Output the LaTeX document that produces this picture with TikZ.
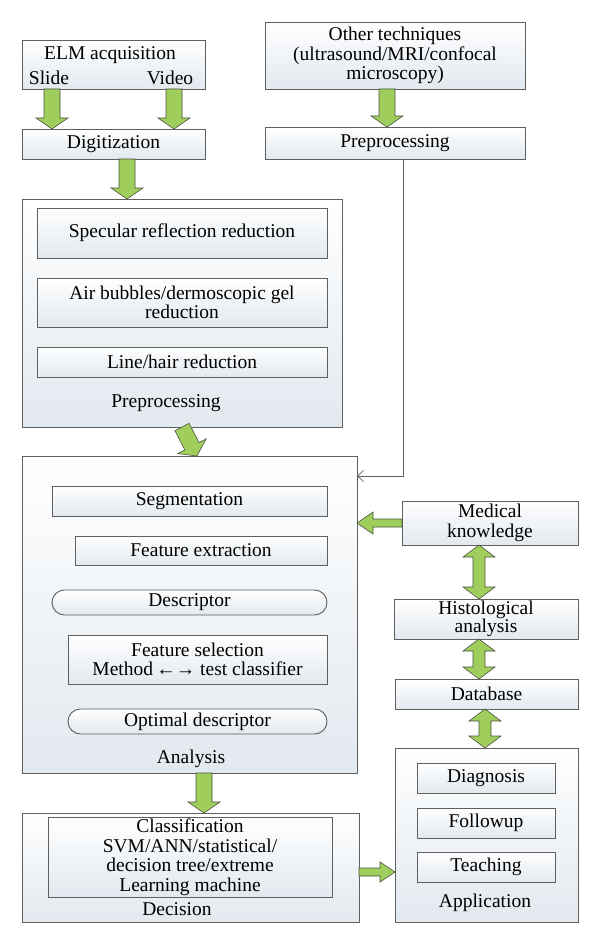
\documentclass[tikz,border=0pt]{standalone}
\usepackage{fontspec}
\setmainfont{Liberation Serif}
\usetikzlibrary{positioning,calc,shapes.misc,arrows.meta}

\definecolor{boxline}{RGB}{95,95,95}
\definecolor{boxshade}{RGB}{226,233,239}
\definecolor{arrowgreen}{RGB}{160,206,92}
\definecolor{arrowline}{RGB}{75,82,68}

\begin{document}
\begin{tikzpicture}[x=1pt,y=-1pt,
    font=\fontsize{19.5}{19.5}\selectfont,
    stage/.style={draw=boxline,line width=0.9pt,top color=white,bottom color=boxshade,
      inner sep=0pt,outer sep=0pt,align=center},
    stepbox/.style={stage},
    pill/.style={stage,rounded rectangle},
    caption/.style={anchor=base,inner sep=0pt},
    fat arrow/.style n args={3}{draw=arrowline,fill=arrowgreen,line width=0.6pt,
      to path={
        ($(\tikztotarget)!#3!(\tikztostart)$) coordinate (fa h)
        ($(\tikztostart)!#1!90:(\tikztotarget)$)
        -- ($(fa h)!#1!-90:(\tikztostart)$) -- ($(fa h)!#2!-90:(\tikztostart)$)
        -- (\tikztotarget)
        -- ($(fa h)!#2!90:(\tikztostart)$) -- ($(fa h)!#1!90:(\tikztostart)$)
        -- ($(\tikztostart)!#1!-90:(\tikztotarget)$) -- cycle}},
    fat twin/.style n args={3}{draw=arrowline,fill=arrowgreen,line width=0.6pt,
      to path={
        ($(\tikztostart)!#3!(\tikztotarget)$) coordinate (ft a)
        ($(\tikztotarget)!#3!(\tikztostart)$) coordinate (ft b)
        (\tikztostart)
        -- ($(ft a)!#2!90:(\tikztotarget)$) -- ($(ft a)!#1!90:(\tikztotarget)$)
        -- ($(ft b)!#1!-90:(\tikztostart)$) -- ($(ft b)!#2!-90:(\tikztostart)$)
        -- (\tikztotarget)
        -- ($(ft b)!#2!90:(\tikztostart)$) -- ($(ft b)!#1!90:(\tikztostart)$)
        -- ($(ft a)!#1!-90:(\tikztotarget)$) -- ($(ft a)!#2!-90:(\tikztotarget)$)
        -- cycle}},
    thin link/.style={draw=boxline,line width=0.7pt,-{Straight Barb[length=6pt,width=11pt]}}]

  \useasboundingbox (0,0) rectangle (600,944);

  % acquisition and digitization
  \node[stage,minimum width=183,minimum height=49] (elm) at (113.5,64.5) {};
  \node[caption] (acq) at (110,60) {ELM acquisition};
  \node[caption] (slide) at (49,85) {Slide};
  \node[caption] (video) at (170,85) {Video};
  \node[stage,minimum width=183,minimum height=30] (dig) at (113.5,144) {Digitization};

  % other techniques
  \node[stage,minimum width=260,minimum height=67] (other) at (395,55.5)
    {Other techniques\\(ultrasound/MRI/confocal\\microscopy)};
  \node[stage,minimum width=260,minimum height=32] (pre2) at (395,143) {Preprocessing};

  % preprocessing stage
  \node[stage,minimum width=320,minimum height=228] (prebox) at (182,313) {};
  \node[stepbox,minimum width=290,minimum height=50] (spec) at (182,233)
    {Specular reflection reduction};
  \node[stepbox,minimum width=290,minimum height=49,below=20pt of spec] (bubble)
    {Air bubbles/dermoscopic gel\\reduction};
  \node[stepbox,minimum width=290,minimum height=30,below=20pt of bubble] (hair)
    {Line/hair reduction};
  \node[caption] (prelbl) at (166,407) {Preprocessing};

  % analysis stage
  \node[stage,minimum width=335,minimum height=317] (ana) at (189.5,614.5) {};
  \node[stepbox,minimum width=275,minimum height=30] (seg) at (189.5,501) {Segmentation};
  \node[stepbox,minimum width=252,minimum height=29,below=20pt of seg.south east,
    anchor=north east] (feat) {Feature extraction};
  \node[pill,minimum width=275,minimum height=25] (desc) at (189.5,602.5) {Descriptor};
  \node[stepbox,minimum width=259,minimum height=49] (sel) at (197.5,659.5)
    {Feature selection\\Method\,←→ test classifier};
  \node[pill,minimum width=259,minimum height=25] (opt) at (197.5,721.5) {Optimal descriptor};
  \node[caption] (analbl) at (191,763) {Analysis};

  % decision stage
  \node[stage,minimum width=337,minimum height=109] (dec) at (190.5,867.5) {};
  \node[stepbox,minimum width=284,minimum height=80] (cls) at (190,857)
    {Classification\\SVM/ANN/statistical/\\decision tree/extreme\\Learning machine};
  \node[caption] (declbl) at (177,915) {Decision};

  % knowledge column
  \node[stage,minimum width=176,minimum height=44] (med) at (490,523) {Medical\\knowledge};
  \node[stage,minimum width=184,minimum height=40,font=\fontsize{19.5}{18}\selectfont]
    (histo) at (486,619) {Histological\\analysis};
  \node[stage,minimum width=183,minimum height=30] (db) at (486.5,694) {Database};

  % application stage
  \node[stage,minimum width=183,minimum height=174] (app) at (486.5,835) {};
  \node[stepbox,minimum width=138,minimum height=30] (diag) at (486,778) {Diagnosis};
  \node[stepbox,minimum width=138,minimum height=30,below=15pt of diag] (follow) {Followup};
  \node[stepbox,minimum width=138,minimum height=30,below=14pt of follow] (teach) {Teaching};
  \node[caption] (applbl) at (485,907) {Application};

  % connectors
  \coordinate (d1) at ($(dig.south)+(13.5,0)$);
  \coordinate (o1) at ($(other.south)+(-8,0)$);
  \coordinate (a1) at ($(ana.south)+(14.5,0)$);
  \coordinate (m1) at ($(med.south)+(-11,0)$);
  \coordinate (h1) at ($(histo.south)+(-7,0)$);
  \coordinate (b1) at ($(db.south)+(-1.5,0)$);
  \coordinate (c1) at ($(dec.east)+(0,4.5)$);
  \coordinate (t1) at ($(pre2.south)+(8,0)$);

  \path[fat arrow={8pt}{16pt}{11pt}]
    ($(elm.south west)+(30,0)$) to ($(dig.north west)+(30,0)$)
    ($(elm.south east)+(-31,0)$) to ($(dig.north east)+(-31,0)$)
    (d1) to (d1 |- prebox.north)
    (o1) to (o1 |- pre2.north)
    (prebox.south) to ($(ana.north)+(7.5,0)$)
    (a1) to (a1 |- dec.north);
  \path[fat arrow={4pt}{11pt}{16pt}] (med.west) to (med.west -| ana.east);
  \path[fat arrow={4pt}{10pt}{15pt}] (c1) to (c1 -| app.west);
  \path[fat twin={6pt}{16pt}{12pt}]
    (m1) to (m1 |- histo.north)
    (h1) to (h1 |- db.north)
    (b1) to (b1 |- app.north);

  \draw[thin link] (t1) |- ($(ana.north east)+(0,20)$);
\end{tikzpicture}
\end{document}
